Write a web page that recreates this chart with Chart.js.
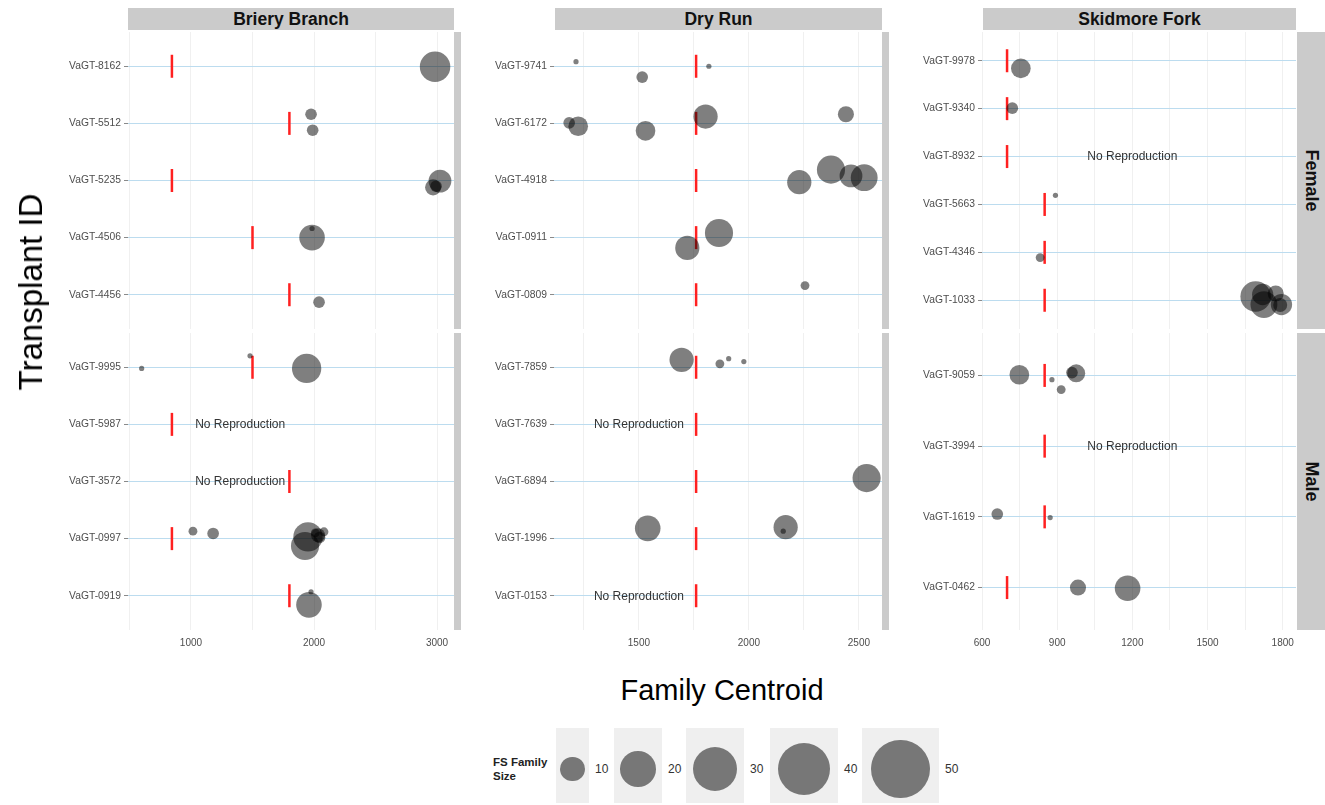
<!DOCTYPE html>
<html>
<head>
<meta charset="utf-8">
<script src="https://cdn.jsdelivr.net/npm/chart.js@4.4.1/dist/chart.umd.min.js"></script>
<style>
  html, body { margin: 0; padding: 0; background: #fff; }
  body { position: relative; width: 1325px; height: 805px; overflow: hidden;
         font-family: 'Liberation Sans', Arial, Helvetica, sans-serif; }
  .box { position: absolute; }
  .strip { position: absolute; background: #cbcbcb; }
  .strip-top { display: flex; align-items: center; justify-content: center;
               font-weight: bold; font-size: 17.5px; color: #111; }
  .strip-side { display: flex; align-items: center; justify-content: center; }
  .strip-side span { display: block; transform: rotate(90deg); font-weight: bold;
                     font-size: 18px; color: #111; white-space: nowrap; }
  .key { position: absolute; background: #efefef; }
  .dot { position: absolute; border-radius: 50%; background: rgba(0,0,0,0.5); }
  .keylab { position: absolute; font-size: 12px; color: #333; line-height: 12px; }
</style>
</head>
<body>

<!-- column strips -->
<div class="strip strip-top" style="left:128px;top:8px;width:326px;height:22px;">Briery Branch</div>
<div class="strip strip-top" style="left:555px;top:8px;width:327px;height:22px;">Dry Run</div>
<div class="strip strip-top" style="left:983px;top:8px;width:313px;height:22px;">Skidmore Fork</div>

<!-- row strips -->
<div class="strip" style="left:454px;top:32px;width:7px;height:297px;"></div>
<div class="strip" style="left:454px;top:333px;width:7px;height:297px;"></div>
<div class="strip" style="left:882px;top:32px;width:7px;height:297px;"></div>
<div class="strip" style="left:882px;top:333px;width:7px;height:297px;"></div>
<div class="strip strip-side" style="left:1297px;top:32px;width:28px;height:297px;"><span>Female</span></div>
<div class="strip strip-side" style="left:1297px;top:333px;width:28px;height:297px;"><span>Male</span></div>

<!-- panels -->
<div class="box" style="left:40px;top:32px;"><canvas id="bbF" width="414" height="297"></canvas></div>
<div class="box" style="left:40px;top:333px;"><canvas id="bbM" width="414" height="327"></canvas></div>
<div class="box" style="left:470px;top:32px;"><canvas id="drF" width="412" height="297"></canvas></div>
<div class="box" style="left:470px;top:333px;"><canvas id="drM" width="412" height="327"></canvas></div>
<div class="box" style="left:900px;top:32px;"><canvas id="sfF" width="396" height="297"></canvas></div>
<div class="box" style="left:900px;top:333px;"><canvas id="sfM" width="396" height="327"></canvas></div>

<!-- axis titles -->
<div class="box" style="left:31px;top:292px;width:0;height:0;">
  <div style="position:absolute;transform:translate(-50%,-50%) rotate(-90deg);font-size:33px;color:#000;white-space:nowrap;">Transplant ID</div>
</div>
<div class="box" style="left:722px;top:690px;width:0;height:0;">
  <div style="position:absolute;transform:translate(-50%,-50%);font-size:29px;color:#000;white-space:nowrap;">Family Centroid</div>
</div>

<!-- size legend -->
<div class="box" style="left:493px;top:755px;font-weight:bold;font-size:11.5px;line-height:14px;color:#222;">FS Family<br>Size</div>
<div id="legend"></div>

<script>
// ---- Briery Branch ----
const brieryFemaleIds = ['VaGT-8162', 'VaGT-5512', 'VaGT-5235', 'VaGT-4506', 'VaGT-4456'];
const brieryFemaleOrigin = [845, 1800, 845, 1500, 1800];
// [transplant, family centroid, jitter (rows), FS family size]
const brieryFemaleFamilies = [
  ['VaGT-8162', 2984, 0.01, 15],
  ['VaGT-5512', 1976, -0.16, 3],
  ['VaGT-5512', 1989, 0.12, 3],
  ['VaGT-5235', 3024, 0.01, 9],
  ['VaGT-5235', 2968, 0.12, 5],
  ['VaGT-5235', 2992, 0.10, 3],
  ['VaGT-4506', 1984, 0.00, 11],
  ['VaGT-4506', 1984, -0.16, 1],
  ['VaGT-4456', 2041, 0.13, 3]
];
const brieryFemaleNoRepro = [];

const brieryMaleIds = ['VaGT-9995', 'VaGT-5987', 'VaGT-3572', 'VaGT-0997', 'VaGT-0919'];
const brieryMaleOrigin = [1500, 845, 1800, 845, 1800];
const brieryMaleFamilies = [
  ['VaGT-9995', 599, 0.02, 1],
  ['VaGT-9995', 1480, -0.20, 1],
  ['VaGT-9995', 1940, 0.02, 14],
  ['VaGT-0997', 1016, -0.13, 2],
  ['VaGT-0997', 1180, -0.09, 3],
  ['VaGT-0997', 1927, 0.13, 13],
  ['VaGT-0997', 1951, -0.03, 14],
  ['VaGT-0997', 2033, -0.06, 4],
  ['VaGT-0997', 2045, -0.02, 3],
  ['VaGT-0997', 2081, -0.12, 2],
  ['VaGT-0997', 2010, -0.10, 2],
  ['VaGT-0919', 1976, -0.07, 1],
  ['VaGT-0919', 1959, 0.16, 11]
];
const brieryMaleNoRepro = ['VaGT-5987', 'VaGT-3572'];
const brieryNoReproX = 1400;
const brieryRange = [488, 3138];
const brieryGrid = [500, 1000, 1500, 2000, 2500, 3000];
const brieryTicks = [1000, 2000, 3000];

// ---- Dry Run ----
const dryFemaleIds = ['VaGT-9741', 'VaGT-6172', 'VaGT-4918', 'VaGT-0911', 'VaGT-0809'];
const dryFemaleOrigin = [1760, 1760, 1760, 1760, 1760];
const dryFemaleFamilies = [
  ['VaGT-9741', 1214, -0.08, 1],
  ['VaGT-9741', 1515, 0.19, 3],
  ['VaGT-9741', 1818, 0.00, 1],
  ['VaGT-6172', 1183, -0.01, 3],
  ['VaGT-6172', 1224, 0.05, 7],
  ['VaGT-6172', 1530, 0.13, 7],
  ['VaGT-6172', 1803, -0.12, 10],
  ['VaGT-6172', 2441, -0.16, 5],
  ['VaGT-4918', 2229, 0.03, 10],
  ['VaGT-4918', 2373, -0.19, 13],
  ['VaGT-4918', 2464, -0.08, 9],
  ['VaGT-4918', 2524, -0.05, 12],
  ['VaGT-0911', 1720, 0.18, 10],
  ['VaGT-0911', 1864, -0.08, 13],
  ['VaGT-0809', 2255, -0.16, 2]
];
const dryFemaleNoRepro = [];

const dryMaleIds = ['VaGT-7859', 'VaGT-7639', 'VaGT-6894', 'VaGT-1996', 'VaGT-0153'];
const dryMaleOrigin = [1760, 1760, 1760, 1760, 1760];
const dryMaleFamilies = [
  ['VaGT-7859', 1694, -0.13, 10],
  ['VaGT-7859', 1868, -0.06, 2],
  ['VaGT-7859', 1908, -0.15, 1],
  ['VaGT-7859', 1977, -0.10, 1],
  ['VaGT-6894', 2535, -0.06, 13],
  ['VaGT-1996', 1540, -0.18, 11],
  ['VaGT-1996', 2167, -0.20, 10],
  ['VaGT-1996', 2156, -0.13, 1]
];
const dryMaleNoRepro = ['VaGT-7639', 'VaGT-0153'];
const dryNoReproX = 1500;
const dryRange = [1114, 2605];
const dryGrid = [1250, 1500, 1750, 2000, 2250, 2500];
const dryTicks = [1500, 2000, 2500];

// ---- Skidmore Fork ----
const skidFemaleIds = ['VaGT-9978', 'VaGT-9340', 'VaGT-8932', 'VaGT-5663', 'VaGT-4346', 'VaGT-1033'];
const skidFemaleOrigin = [700, 700, 700, 850, 850, 850];
const skidFemaleFamilies = [
  ['VaGT-9978', 755, 0.16, 7],
  ['VaGT-9340', 721, -0.01, 3],
  ['VaGT-5663', 893, -0.19, 1],
  ['VaGT-4346', 832, 0.11, 2],
  ['VaGT-1033', 1692, -0.08, 15],
  ['VaGT-1033', 1725, 0.09, 12],
  ['VaGT-1033', 1720, -0.12, 8],
  ['VaGT-1033', 1772, -0.14, 5],
  ['VaGT-1033', 1795, 0.09, 8],
  ['VaGT-1033', 1790, 0.10, 4]
];
const skidFemaleNoRepro = ['VaGT-8932'];

const skidMaleIds = ['VaGT-9059', 'VaGT-3994', 'VaGT-1619', 'VaGT-0462'];
const skidMaleOrigin = [850, 850, 850, 700];
const skidMaleFamilies = [
  ['VaGT-9059', 749, -0.01, 7],
  ['VaGT-9059', 879, 0.06, 1],
  ['VaGT-9059', 916, 0.20, 2],
  ['VaGT-9059', 976, -0.03, 6],
  ['VaGT-9059', 959, -0.04, 3],
  ['VaGT-1619', 661, -0.04, 3],
  ['VaGT-1619', 872, 0.01, 1],
  ['VaGT-0462', 983, 0.00, 5],
  ['VaGT-0462', 1181, 0.01, 11]
];
const skidMaleNoRepro = ['VaGT-3994'];
const skidNoReproX = 1200;
const skidRange = [600, 1853];
const skidGrid = [600, 750, 900, 1050, 1200, 1350, 1500, 1650, 1800];
const skidTicks = [600, 900, 1200, 1500, 1800];

// legend breaks for family size
const sizeBreaks = [10, 20, 30, 40, 50];

Chart.defaults.font.family = "'Liberation Sans', Arial, Helvetica, sans-serif";

// area-style size scale: family size -> bubble radius in px
function sizeToRadius(size) {
  return 4.4 * Math.sqrt(size) - 1.8;
}

// writes "No Reproduction" on the rows of transplants without offspring
const noReproPlugin = {
  id: 'noRepro',
  afterDatasetsDraw(chart, args, opts) {
    if (!opts.rows || !opts.rows.length) return;
    const { ctx, scales } = chart;
    ctx.save();
    ctx.font = "12px 'Liberation Sans', Arial, sans-serif";
    ctx.fillStyle = '#333';
    ctx.textAlign = 'center';
    ctx.textBaseline = 'middle';
    opts.rows.forEach(id => {
      const row = opts.ids.indexOf(id);
      ctx.fillText('No Reproduction', scales.x.getPixelForValue(opts.x), scales.y.getPixelForValue(row) + 0.5);
    });
    ctx.restore();
  }
};

function panel(canvasId, ids, origin, families, noRepro, noReproX, range, grid, ticks, axisWidth, showX) {
  const bubbles = families.map(f => ({ x: f[1], y: ids.indexOf(f[0]) + f[2], r: sizeToRadius(f[3]) }));
  const marks = ids.map((id, i) => ({ x: origin[i], y: i }));
  return new Chart(document.getElementById(canvasId), {
    type: 'bubble',
    data: {
      datasets: [
        { data: bubbles, backgroundColor: 'rgba(0,0,0,0.5)', borderWidth: 0, borderColor: 'rgba(0,0,0,0)' },
        { type: 'scatter', data: marks, pointStyle: 'line', pointRadius: 11.5, pointRotation: 90,
          pointBorderColor: '#ff2020', pointBorderWidth: 2.5, pointBackgroundColor: '#ff2020', showLine: false }
      ]
    },
    options: {
      responsive: false,
      animation: false,
      events: [],
      layout: { padding: 0, autoPadding: false },
      plugins: {
        legend: { display: false },
        tooltip: { enabled: false },
        noRepro: { rows: noRepro, ids: ids, x: noReproX }
      },
      scales: {
        x: {
          type: 'linear', min: range[0], max: range[1],
          border: { display: false },
          grid: { color: '#f0f0f0', lineWidth: 1, drawTicks: false },
          ticks: {
            display: showX, padding: 7, color: '#4d4d4d', font: { size: 10 }, maxRotation: 0, autoSkip: false,
            callback: v => ticks.includes(v) ? String(v) : ''
          },
          afterBuildTicks: a => { a.ticks = grid.map(v => ({ value: v })); },
          afterFit: a => {
            a.height = showX ? 30 : 0;
            a.paddingLeft = 0; a.paddingRight = 0; a.paddingTop = 0; a.paddingBottom = 0;
          }
        },
        y: {
          type: 'linear', reverse: true, min: -0.6, max: ids.length - 0.4,
          border: { display: false },
          grid: { color: '#bcdcef', lineWidth: 1, tickColor: '#8a8a8a', tickLength: 4 },
          ticks: { color: '#4d4d4d', font: { size: 10.3 }, padding: 3, autoSkip: false,
                   callback: v => ids[v] !== undefined ? ids[v] : '' },
          afterBuildTicks: a => { a.ticks = ids.map((_, i) => ({ value: i })); },
          afterFit: a => {
            a.width = axisWidth;
            a.paddingLeft = 0; a.paddingRight = 0; a.paddingTop = 0; a.paddingBottom = 0;
          }
        }
      }
    },
    plugins: [noReproPlugin]
  });
}

panel('bbF', brieryFemaleIds, brieryFemaleOrigin, brieryFemaleFamilies, brieryFemaleNoRepro, brieryNoReproX, brieryRange, brieryGrid, brieryTicks, 88, false);
panel('bbM', brieryMaleIds, brieryMaleOrigin, brieryMaleFamilies, brieryMaleNoRepro, brieryNoReproX, brieryRange, brieryGrid, brieryTicks, 88, true);
panel('drF', dryFemaleIds, dryFemaleOrigin, dryFemaleFamilies, dryFemaleNoRepro, dryNoReproX, dryRange, dryGrid, dryTicks, 84, false);
panel('drM', dryMaleIds, dryMaleOrigin, dryMaleFamilies, dryMaleNoRepro, dryNoReproX, dryRange, dryGrid, dryTicks, 84, true);
panel('sfF', skidFemaleIds, skidFemaleOrigin, skidFemaleFamilies, skidFemaleNoRepro, skidNoReproX, skidRange, skidGrid, skidTicks, 82, false);
panel('sfM', skidMaleIds, skidMaleOrigin, skidMaleFamilies, skidMaleNoRepro, skidNoReproX, skidRange, skidGrid, skidTicks, 82, true);

// size legend keys
const keyBoxes = [[556, 33], [614, 48], [686, 58], [770, 68], [862, 77]];
const legend = document.getElementById('legend');
sizeBreaks.forEach((s, i) => {
  const [left, w] = keyBoxes[i];
  const r = sizeToRadius(s);
  const key = document.createElement('div');
  key.className = 'key';
  Object.assign(key.style, { left: left + 'px', top: '728px', width: w + 'px', height: '75px' });
  legend.appendChild(key);
  const dot = document.createElement('div');
  dot.className = 'dot';
  Object.assign(dot.style, { left: (left + w / 2 - r) + 'px', top: (769 - r) + 'px', width: 2 * r + 'px', height: 2 * r + 'px' });
  legend.appendChild(dot);
  const lab = document.createElement('div');
  lab.className = 'keylab';
  lab.textContent = String(s);
  Object.assign(lab.style, { left: (left + w + 6) + 'px', top: '763px' });
  legend.appendChild(lab);
});
</script>
</body>
</html>
